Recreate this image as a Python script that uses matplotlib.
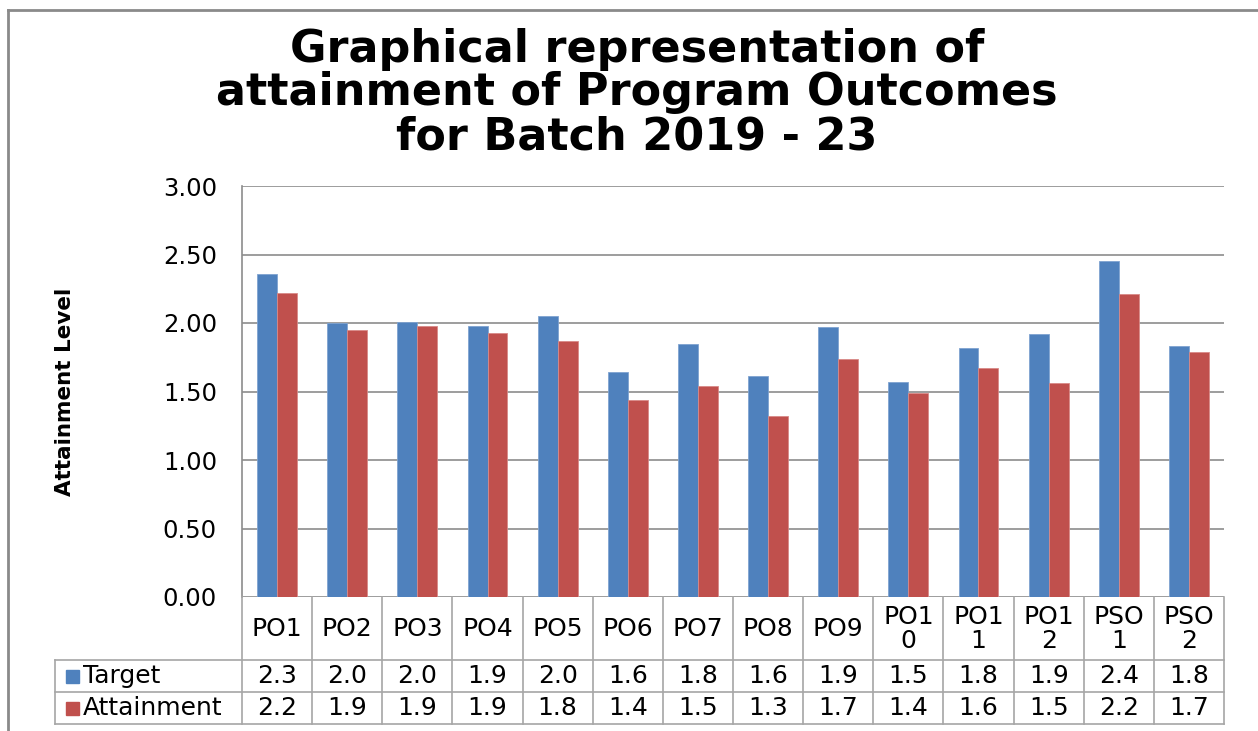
import textwrap
import matplotlib
matplotlib.use("Agg")
import matplotlib.pyplot as plt
from matplotlib.patches import Rectangle
from matplotlib.lines import Line2D

# ---------------- data ----------------
categories = ["PO1", "PO2", "PO3", "PO4", "PO5", "PO6", "PO7", "PO8", "PO9",
              "PO10", "PO11", "PO12", "PSO1", "PSO2"]
target = [2.36, 2.00, 2.01, 1.98, 2.05, 1.64, 1.85, 1.61, 1.97, 1.57, 1.82, 1.92, 2.45, 1.83]
attainment = [2.22, 1.95, 1.98, 1.93, 1.87, 1.44, 1.54, 1.32, 1.74, 1.49, 1.67, 1.56, 2.21, 1.79]
target_labels = ["2.3", "2.0", "2.0", "1.9", "2.0", "1.6", "1.8", "1.6", "1.9",
                 "1.5", "1.8", "1.9", "2.4", "1.8"]
attainment_labels = ["2.2", "1.9", "1.9", "1.9", "1.8", "1.4", "1.5", "1.3", "1.7",
                     "1.4", "1.6", "1.5", "2.2", "1.7"]
series_names = ["Target", "Attainment"]
yticks = [0.0, 0.5, 1.0, 1.5, 2.0, 2.5, 3.0]
title = "Graphical representation of\nattainment of Program Outcomes\nfor Batch 2019 - 23"
ylabel = "Attainment Level"

BLUE = "#4F81BD"
RED = "#C0504D"
GRID = "#8C8C8C"
TGRID = "#A6A6A6"

W, H = 1258, 731
fig = plt.figure(figsize=(W / 100, H / 100), dpi=100)
fig.patch.set_facecolor("white")

# outer chart border (cut at right/bottom)
fig.add_artist(Line2D([8 / W, 8 / W], [0, 1 - 10 / H], transform=fig.transFigure,
                      color="#8A8A8A", lw=2))
fig.add_artist(Line2D([8 / W, 1], [1 - 10 / H, 1 - 10 / H], transform=fig.transFigure,
                      color="#8A8A8A", lw=2))

L, R = 242, 1224
TOP, BOT = 186, 597
TBOT = 724
ax = fig.add_axes([L / W, 1 - BOT / H, (R - L) / W, (BOT - TOP) / H])
n = len(categories)
x = list(range(n))
bw = 0.285
ax.bar([i - bw / 2 for i in x], target, width=bw, color=BLUE, edgecolor="#7FA3D0",
       linewidth=0.6, zorder=3)
ax.bar([i + bw / 2 for i in x], attainment, width=bw, color=RED, edgecolor="#D88A88",
       linewidth=0.6, zorder=3)
ax.set_xlim(-0.5, n - 0.5)
ax.set_ylim(0, 3)
ax.set_yticks(yticks)
ax.set_yticklabels([f"{v:.2f}" for v in yticks], fontsize=17.5, family="DejaVu Sans")
ax.tick_params(axis="y", length=0, pad=18)
ax.set_xticks([])
ax.yaxis.grid(True, color=GRID, lw=1.2, zorder=0)
for s in ["top", "right", "bottom"]:
    ax.spines[s].set_visible(False)
ax.spines["left"].set_color(GRID)
ax.spines["left"].set_linewidth(1.2)

ax.set_ylabel(ylabel, fontsize=15.5, fontweight="bold",
              family=["Liberation Sans Narrow", "DejaVu Sans"], labelpad=0)
ax.yaxis.set_label_coords((75 - L) / (R - L), 0.5)

fig.text(637 / W, 1 - 93 / H, title, ha="center", va="center", fontsize=32,
         fontweight="bold", family="DejaVu Sans", linespacing=1.02)

# ---------------- data table ----------------
tax = fig.add_axes([L / W, 1 - TBOT / H, (R - L) / W, (TBOT - BOT) / H])
tax.set_xlim(-0.5, n - 0.5)
tax.set_ylim(0, TBOT - BOT)
tax.axis("off")
ppu = (R - L) / n  # pixels per category
def px2x(px):
    return -0.5 + (px - L) / ppu

rows_y = [0, 32, 64, TBOT - BOT]  # row boundaries from bottom
lkw = dict(color=TGRID, lw=1.2, clip_on=False)
left_x = px2x(55)
for yb in rows_y[:3]:
    tax.plot([left_x, n - 0.5], [yb] * 2, **lkw)
tax.plot([left_x, left_x], [rows_y[0], rows_y[2]], **lkw)
for i in range(n + 1):
    tax.plot([i - 0.5, i - 0.5], [rows_y[0], rows_y[3]], **lkw)

fs = 18
for i, cat in enumerate(categories):
    lab = "\n".join(textwrap.wrap(cat, 3))
    tax.text(i, (rows_y[2] + rows_y[3]) / 2, lab, ha="center", va="center",
             fontsize=fs, linespacing=1.0)
    tax.text(i, (rows_y[1] + rows_y[2]) / 2, target_labels[i], ha="center",
             va="center", fontsize=fs)
    tax.text(i, (rows_y[0] + rows_y[1]) / 2, attainment_labels[i], ha="center",
             va="center", fontsize=fs)

for name, col, yc in [(series_names[0], BLUE, (rows_y[1] + rows_y[2]) / 2),
                      (series_names[1], RED, (rows_y[0] + rows_y[1]) / 2)]:
    tax.add_patch(Rectangle((px2x(66), yc - 6.5), 13 / ppu, 13, color=col,
                            clip_on=False))
    tax.text(px2x(83), yc, name, ha="left", va="center", fontsize=fs)

fig.savefig("out.png", dpi=100, facecolor="white")
